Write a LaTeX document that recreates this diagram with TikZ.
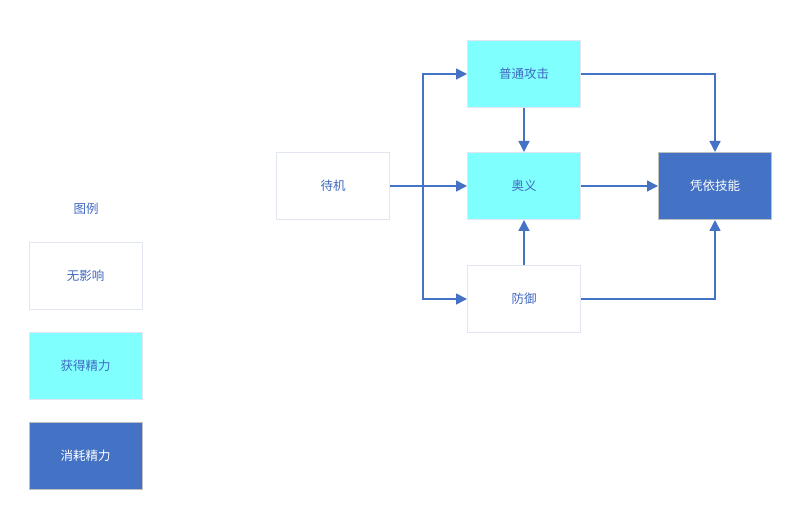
\documentclass[tikz,border=0pt]{standalone}
\usepackage{fontspec}
\setmainfont{Noto Sans CJK SC}
\usetikzlibrary{arrows.meta}
\definecolor{lineblue}{HTML}{4472C4}
\definecolor{txtblue}{HTML}{4169C0}
\definecolor{cyanfill}{HTML}{80FFFF}
\definecolor{lightborder}{HTML}{E2E6F3}
\definecolor{grayborder}{HTML}{BFBFBF}
\begin{document}
\begin{tikzpicture}[x=1pt,y=-1pt,
  box/.style={draw=lightborder,line width=1pt,minimum width=113pt,minimum height=67pt,inner sep=0pt,
    font=\fontsize{12.5}{15}\selectfont,text=txtblue},
  plainbox/.style={box,fill=white},
  gainbox/.style={box,fill=cyanfill},
  costbox/.style={box,draw=grayborder,fill=lineblue,text=white},
  conn/.style={draw=lineblue,line width=1.5pt,-{Triangle[length=11pt,width=11pt]}}]
\useasboundingbox (0,0) rectangle (800,518);
\node[plainbox] (idle) at (333,186) {待机};
\node[gainbox] (atk) at (524,74) {普通攻击};
\node[gainbox] (ult) at (524,186) {奥义};
\node[plainbox] (def) at (524,299) {防御};
\node[costbox] (skill) at (715,186) {凭依技能};
\node[font=\fontsize{12.5}{15}\selectfont,text=txtblue] (legend) at (86,209) {图例};
\node[plainbox] (l1) at (85.5,276) {无影响};
\node[gainbox] (l2) at (85.5,366) {获得精力};
\node[costbox] (l3) at (85.5,456) {消耗精力};
\coordinate (br) at (423,186);
\draw[conn] (idle.east) -- (ult.west);
\draw[conn] (idle.east) -- (br) |- (atk.west);
\draw[conn] (idle.east) -- (br) |- (def.west);
\draw[conn] (atk.south) -- (ult.north);
\draw[conn] (def.north) -- (ult.south);
\draw[conn] (ult.east) -- (skill.west);
\draw[conn] (atk.east) -| (skill.north);
\draw[conn] (def.east) -| (skill.south);
\end{tikzpicture}
\end{document}
